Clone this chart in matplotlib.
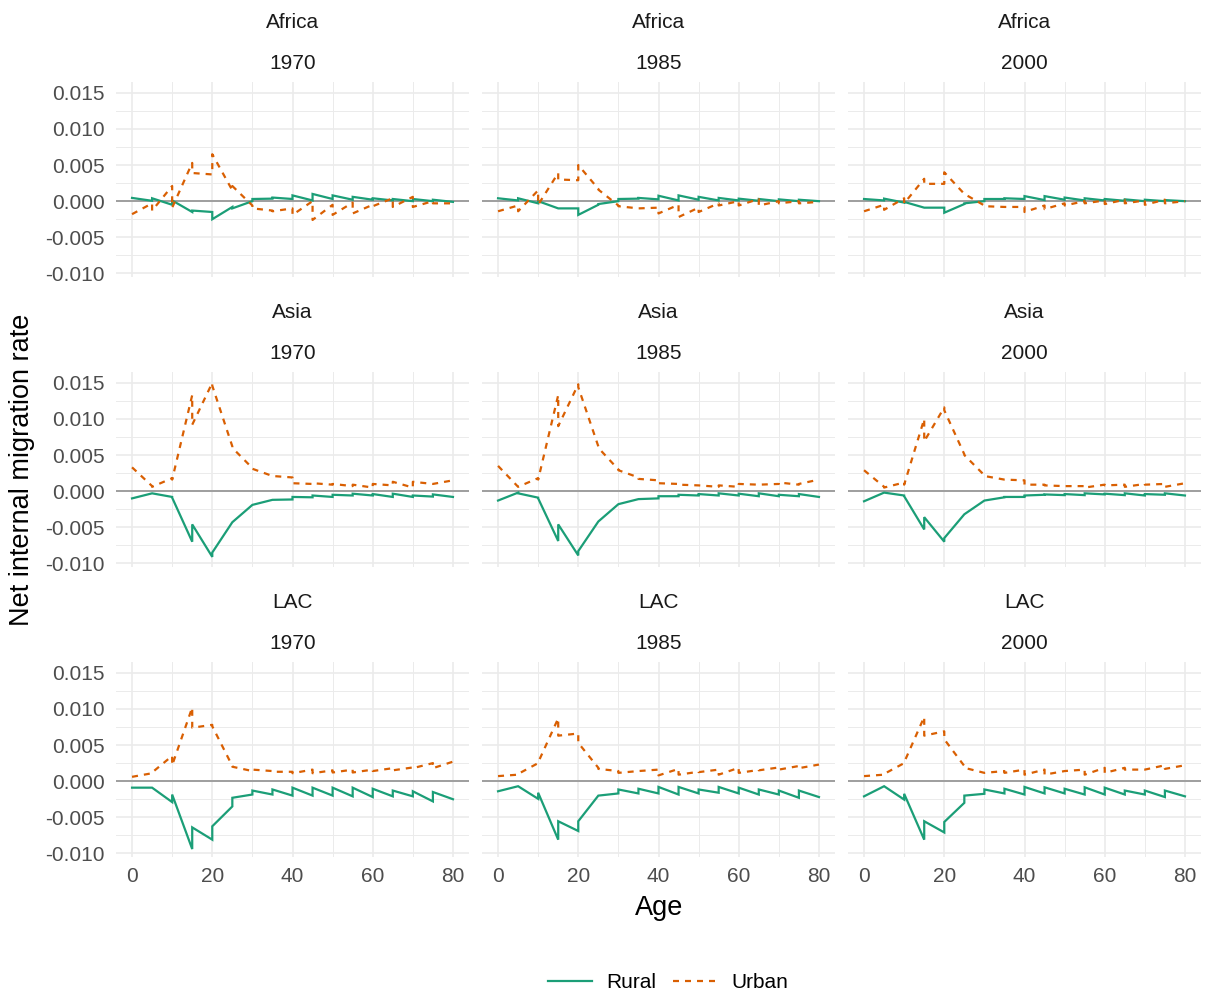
import numpy as np
import matplotlib.pyplot as plt
from matplotlib.lines import Line2D

plt.rcParams['font.family'] = ['Liberation Sans', 'DejaVu Sans']

REGIONS = ['Africa', 'Asia', 'LAC']
YEARS = ['1970', '1985', '2000']
SERIES = ['Rural', 'Urban']
COLORS = {'Rural': '#1B9E77', 'Urban': '#D95F02'}

# Each 5-year age group contributes its value at the start and at the end of the group.
AGE_POINTS = [0, 5, 5, 10, 10, 15, 15, 20, 20, 25, 25, 30, 30, 35, 35, 40,
              40, 45, 45, 50, 50, 55, 55, 60, 60, 65, 65, 70, 70, 75, 75, 80]

# Net internal migration rates, per 1000 (start, end of each age group)
africa_1970_rural = [0.45, 0.05, 0.4, -0.5, 0.1, -1.5, -1.3, -1.5, -2.5, -0.8, -1.0, 0.0,
                     0.3, 0.35, 0.5, 0.3, 0.8, 0.1, 1.0, 0.3, 0.8, 0.2, 0.6, 0.2,
                     0.4, 0.1, 0.3, 0.0, 0.3, 0.0, 0.2, -0.1]
africa_1970_urban = [-1.8, -0.3, -1.3, 2.1, -0.9, 5.3, 3.9, 3.7, 6.5, 1.5, 2.1, -0.6,
                     -1.0, -1.3, -1.4, -1.0, -1.9, 0.0, -2.6, -0.5, -1.9, -0.2, -1.7, -0.5,
                     -0.7, 0.4, -0.8, 0.6, -0.8, 0.0, -0.3, -0.3]
africa_1985_rural = [0.4, 0.1, 0.4, -0.3, 0.0, -1.0, -1.0, -1.0, -1.9, -0.5, -0.4, 0.0,
                     0.3, 0.35, 0.45, 0.25, 0.75, 0.1, 0.8, 0.2, 0.6, 0.1, 0.45, 0.1,
                     0.35, 0.05, 0.3, 0.0, 0.25, 0.0, 0.2, 0.0]
africa_1985_urban = [-1.4, -0.6, -1.4, 1.5, -0.5, 3.9, 3.0, 2.9, 5.0, 1.7, 1.6, -0.6,
                     -0.7, -1.0, -1.0, -0.9, -1.7, -0.5, -2.2, -0.9, -1.5, -0.3, -0.6, 0.0,
                     -0.6, 0.3, -0.6, 0.0, -0.3, 0.0, -0.3, -0.1]
africa_2000_rural = [0.3, 0.1, 0.35, -0.2, -0.1, -0.9, -0.9, -0.9, -1.6, -0.4, -0.3, 0.0,
                     0.3, 0.3, 0.4, 0.3, 0.7, 0.15, 0.7, 0.2, 0.5, 0.1, 0.4, 0.1,
                     0.3, 0.05, 0.25, 0.0, 0.2, 0.0, 0.15, 0.0]
africa_2000_urban = [-1.4, -0.5, -1.2, 0.4, -0.3, 3.1, 2.4, 2.4, 4.0, 1.0, 1.0, -0.6,
                     -0.7, -0.8, -0.8, -0.8, -1.5, -0.6, -1.1, -0.3, -0.6, 0.0, -0.3, 0.1,
                     -0.4, 0.2, -0.3, 0.1, -0.5, 0.2, -0.3, 0.0]

asia_1970_rural = [-1.0, -0.3, -0.3, -0.8, -0.9, -7.0, -4.6, -9.1, -8.5, -4.3, -4.3, -1.9,
                   -1.9, -1.2, -1.2, -1.15, -0.8, -0.85, -0.6, -0.8, -0.5, -0.6, -0.35, -0.6,
                   -0.4, -0.8, -0.35, -0.8, -0.6, -0.75, -0.45, -0.8]
asia_1970_urban = [3.3, 0.7, 0.6, 1.8, 1.6, 13.3, 9.2, 15.0, 14.6, 6.2, 6.0, 3.2,
                   3.1, 2.1, 2.1, 1.9, 1.1, 1.0, 1.1, 0.9, 1.0, 0.7, 0.9, 0.5,
                   1.0, 0.8, 1.3, 0.5, 1.3, 1.0, 1.0, 1.5]
asia_1985_rural = [-1.3, -0.2, -0.3, -0.9, -1.0, -6.9, -4.6, -8.9, -8.3, -4.2, -4.2, -1.8,
                   -1.8, -1.1, -1.1, -1.0, -0.7, -0.7, -0.5, -0.6, -0.4, -0.6, -0.3, -0.6,
                   -0.35, -0.7, -0.3, -0.7, -0.5, -0.7, -0.4, -0.8]
asia_1985_urban = [3.5, 0.6, 0.6, 1.8, 1.6, 13.3, 9.0, 14.8, 14.4, 6.2, 6.0, 3.0,
                   2.9, 1.9, 1.7, 1.5, 1.1, 1.0, 0.9, 0.8, 0.8, 0.6, 0.8, 0.6,
                   1.0, 0.9, 0.9, 1.0, 1.2, 0.9, 1.0, 1.6]
asia_2000_rural = [-1.4, -0.2, -0.2, -0.6, -0.7, -5.3, -3.6, -7.0, -6.5, -3.2, -3.2, -1.3,
                   -1.3, -0.85, -0.8, -0.8, -0.6, -0.5, -0.45, -0.55, -0.4, -0.55, -0.3, -0.45,
                   -0.35, -0.55, -0.3, -0.6, -0.4, -0.5, -0.3, -0.6]
asia_2000_urban = [2.9, 0.6, 0.5, 1.2, 0.9, 10.0, 6.9, 11.6, 11.2, 5.1, 5.0, 2.2,
                   2.1, 1.6, 1.6, 1.5, 0.9, 0.9, 0.8, 0.7, 0.7, 0.7, 0.5, 0.9,
                   0.8, 0.9, 0.6, 1.0, 0.9, 1.0, 0.6, 1.1]

lac_1970_rural = [-0.9, -0.9, -0.9, -2.9, -1.85, -9.4, -6.4, -8.1, -6.25, -3.5, -2.3, -1.85,
                  -1.3, -1.85, -1.15, -2.0, -0.9, -2.0, -0.9, -2.0, -0.9, -2.1, -0.9, -2.2,
                  -1.05, -2.1, -1.3, -2.1, -1.4, -2.8, -1.5, -2.5]
lac_1970_urban = [0.6, 1.1, 1.2, 3.5, 2.2, 10.2, 7.4, 7.8, 7.6, 2.1, 2.0, 1.4,
                  1.6, 1.4, 1.3, 1.3, 1.1, 1.6, 1.1, 1.5, 1.2, 1.6, 1.2, 1.6,
                  1.4, 1.8, 1.5, 1.9, 1.8, 2.5, 1.8, 2.7]
lac_1985_rural = [-1.4, -0.7, -0.7, -2.45, -1.6, -8.1, -5.55, -6.9, -5.55, -2.0, -2.0, -1.7,
                  -1.15, -1.7, -1.05, -1.7, -0.8, -1.85, -0.8, -1.7, -1.15, -1.6, -0.8, -1.7,
                  -0.9, -1.85, -1.15, -1.85, -1.3, -2.3, -1.3, -2.2]
lac_1985_urban = [0.7, 0.9, 1.0, 2.5, 2.6, 8.7, 6.3, 6.6, 5.3, 1.85, 1.7, 1.4,
                  1.15, 1.4, 1.4, 1.6, 0.8, 1.7, 0.9, 1.3, 1.25, 1.6, 0.9, 1.85,
                  1.15, 1.55, 1.5, 1.9, 1.6, 2.1, 1.8, 2.3]
lac_2000_rural = [-2.1, -0.7, -0.7, -2.55, -1.75, -8.1, -5.55, -7.1, -5.65, -3.0, -2.0, -1.75,
                  -1.15, -1.7, -1.05, -1.85, -0.8, -1.7, -0.85, -1.7, -1.05, -1.85, -0.85, -1.85,
                  -0.9, -1.85, -1.3, -1.85, -1.3, -2.2, -1.3, -2.1]
lac_2000_urban = [0.7, 0.9, 1.0, 2.5, 2.6, 8.9, 6.3, 6.9, 5.8, 2.1, 1.85, 1.15,
                  1.15, 1.4, 1.15, 1.6, 0.9, 1.6, 0.9, 1.4, 1.4, 1.6, 0.9, 1.85,
                  1.15, 1.85, 1.6, 1.6, 1.6, 2.2, 1.7, 2.2]

PANEL_DATA = {
    ('Africa', '1970'): (africa_1970_rural, africa_1970_urban),
    ('Africa', '1985'): (africa_1985_rural, africa_1985_urban),
    ('Africa', '2000'): (africa_2000_rural, africa_2000_urban),
    ('Asia', '1970'): (asia_1970_rural, asia_1970_urban),
    ('Asia', '1985'): (asia_1985_rural, asia_1985_urban),
    ('Asia', '2000'): (asia_2000_rural, asia_2000_urban),
    ('LAC', '1970'): (lac_1970_rural, lac_1970_urban),
    ('LAC', '1985'): (lac_1985_rural, lac_1985_urban),
    ('LAC', '2000'): (lac_2000_rural, lac_2000_urban),
}

Y_TICKS = [-0.010, -0.005, 0.000, 0.005, 0.010, 0.015]
Y_TICK_LABELS = ['-0.010', '-0.005', '0.000', '0.005', '0.010', '0.015']
X_TICKS = [0, 20, 40, 60, 80]

W, H = 1208, 999
fig = plt.figure(figsize=(W / 100, H / 100), dpi=100)

col_left = [116, 482, 848]
col_width = 353
row_top = [82, 372, 662]
row_height = 195

GRID = '#EBEBEB'
TICK_COLOR = '#4D4D4D'
FS = 15
TITLE_FS = 19.5
DASHES = (2.7, 2.7)

for r, region in enumerate(REGIONS):
    for c, year in enumerate(YEARS):
        rect = [col_left[c] / W, 1 - (row_top[r] + row_height) / H,
                col_width / W, row_height / H]
        ax = fig.add_axes(rect)
        ax.set_xlim(-4, 84)
        ax.set_ylim(-0.0105, 0.0165)
        ax.set_xticks(X_TICKS)
        ax.set_xticks([10, 30, 50, 70], minor=True)
        ax.set_yticks(Y_TICKS)
        ax.set_yticks([-0.0075, -0.0025, 0.0025, 0.0075, 0.0125], minor=True)
        ax.grid(which='major', color=GRID, lw=1.2, zorder=0)
        ax.grid(which='minor', color=GRID, lw=0.7, zorder=0)
        ax.set_axisbelow(True)
        for s in ax.spines.values():
            s.set_visible(False)
        ax.tick_params(which='both', length=0, labelsize=FS, labelcolor=TICK_COLOR)
        ax.tick_params(axis='y', pad=8)
        ax.tick_params(axis='x', pad=7)
        if c == 0:
            ax.set_yticklabels(Y_TICK_LABELS)
        else:
            ax.set_yticklabels([])
        if r < 2:
            ax.set_xticklabels([])

        ax.axhline(0, color='#9E9E9E', lw=1.4, zorder=2)

        rural, urban = PANEL_DATA[(region, year)]
        ages = np.array(AGE_POINTS)
        ax.plot(ages, np.array(rural) / 1000, color=COLORS['Rural'], lw=1.6,
                solid_joinstyle='miter', zorder=3)
        ax.plot(ages, np.array(urban) / 1000, color=COLORS['Urban'], lw=1.6,
                dashes=DASHES, zorder=4)

        ax.annotate(region, xy=(0.5, 1), xycoords='axes fraction',
                    xytext=(0, 43), textcoords='offset points',
                    ha='center', va='center', fontsize=FS, color='#1A1A1A')
        ax.annotate(year, xy=(0.5, 1), xycoords='axes fraction',
                    xytext=(0, 13), textcoords='offset points',
                    ha='center', va='center', fontsize=FS, color='#1A1A1A')

fig.text(22 / W, 1 - 470 / H, 'Net internal migration rate', rotation=90,
         ha='center', va='center', fontsize=TITLE_FS, color='black')
fig.text(659 / W, 1 - 908 / H, 'Age', ha='center', va='center',
         fontsize=TITLE_FS, color='black')

handles = [Line2D([], [], color=COLORS['Rural'], lw=1.6),
           Line2D([], [], color=COLORS['Urban'], lw=1.6, dashes=DASHES)]
fig.legend(handles, SERIES, loc='center', bbox_to_anchor=(668 / W, 1 - 983 / H),
           ncol=2, frameon=False, fontsize=FS, handlelength=2.1,
           handletextpad=0.7, columnspacing=0.8)

fig.savefig('out.png', dpi=100)
